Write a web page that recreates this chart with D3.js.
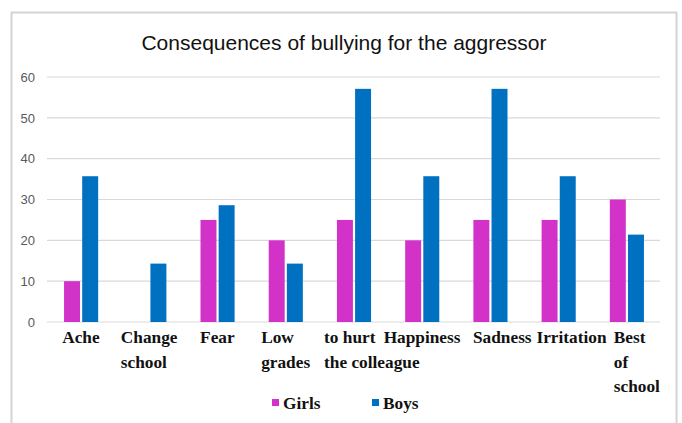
<!DOCTYPE html>
<html><head><meta charset="utf-8">
<script src="https://cdn.jsdelivr.net/npm/d3@7"></script>
<style>body{margin:0;background:#fff}svg{display:block}</style>
</head><body>
<script>
const categories = ["Ache", "Change school", "Fear", "Low grades", "to hurt the colleague", "Happiness", "Sadness", "Irritation", "Best of school"];
const labelLines = [["Ache"], ["Change", "school"], ["Fear"], ["Low", "grades"], ["to hurt", "the colleague"], ["Happiness"], ["Sadness"], ["Irritation"], ["Best", "of", "school"]];
const seriesNames = ["Girls", "Boys"];
const girls = [10, 0, 25, 20, 25, 20, 25, 25, 30];
const boys = [35.7, 14.3, 28.6, 14.3, 57.1, 35.7, 57.1, 35.7, 21.4];
const yTicks = [0, 10, 20, 30, 40, 50, 60];
const colors = ["#d332c9", "#0070c0"];
const title = "Consequences of bullying for the aggressor";

const W = 682, H = 423;
const svg = d3.select("body").append("svg").attr("width", W).attr("height", H);

svg.append("rect").attr("x", 11.5).attr("y", 12.5).attr("width", 665).attr("height", 420)
  .attr("fill", "#fff").attr("stroke", "#d4d4d4").attr("stroke-width", 2);

svg.append("text").attr("x", 344).attr("y", 50).attr("text-anchor", "middle")
  .attr("font-family", "Liberation Sans, Arial, sans-serif").attr("font-size", 21)
  .attr("fill", "#111").text(title);

const x0 = d3.scaleBand().domain(categories).range([47, 661]).paddingInner(0.5).paddingOuter(0.25);
const x1 = d3.scaleBand().domain(seriesNames).range([0, x0.bandwidth()]).paddingInner(0.12);
const y = d3.scaleLinear().domain([0, 60]).range([322, 77]);

const grid = svg.append("g");
grid.selectAll("line").data(yTicks).join("line")
  .attr("x1", 47).attr("x2", 660).attr("y1", d => y(d)).attr("y2", d => y(d))
  .attr("stroke", "#d9d9d9").attr("stroke-width", 1.2);

const yAxis = d3.axisLeft(y).tickValues(yTicks).tickSize(0).tickPadding(0);
svg.append("g").attr("transform", "translate(35,0)").call(yAxis)
  .call(g => g.select(".domain").remove())
  .call(g => g.selectAll("text").attr("font-family", "Liberation Sans, Arial, sans-serif")
    .attr("font-size", 13).attr("fill", "#595959"));

const series = [girls, boys];
const bars = svg.append("g");
categories.forEach((c, i) => {
  series.forEach((s, j) => {
    if (s[i] > 0) {
      bars.append("rect")
        .attr("x", x0(c) + x1(seriesNames[j]))
        .attr("y", y(s[i]))
        .attr("width", x1.bandwidth())
        .attr("height", y(0) - y(s[i]))
        .attr("fill", colors[j]);
    }
  });
});

// label layout nudges (px) to mimic the hand-placed category text boxes
const labelNudge = [0, 0, 0, 0, 18, 0, 12, 13, 10];
const lab = svg.append("g").attr("font-family", "Liberation Serif, Times New Roman, serif")
  .attr("font-weight", "bold").attr("font-size", 17.3).attr("fill", "#111");
categories.forEach((c, i) => {
  const cx = x0(c) + x0.bandwidth() / 2 + labelNudge[i];
  const t = lab.append("text").attr("y", 343);
  labelLines[i].forEach((ln, k) => {
    t.append("tspan").attr("x", 0).attr("dy", k === 0 ? 0 : 24.5).text(ln);
  });
  const w = t.node().getBBox().width;
  t.selectAll("tspan").attr("x", cx - w / 2);
});

const leg = svg.append("g");
const legX = [272, 372];
seriesNames.forEach((n, j) => {
  leg.append("rect").attr("x", legX[j]).attr("y", 399).attr("width", 7).attr("height", 7).attr("fill", colors[j]);
  leg.append("text").attr("x", legX[j] + 11).attr("y", 409)
    .attr("font-family", "Liberation Serif, Times New Roman, serif").attr("font-weight", "bold")
    .attr("font-size", 17.3).attr("fill", "#111").text(n);
});
</script>
</body></html>
